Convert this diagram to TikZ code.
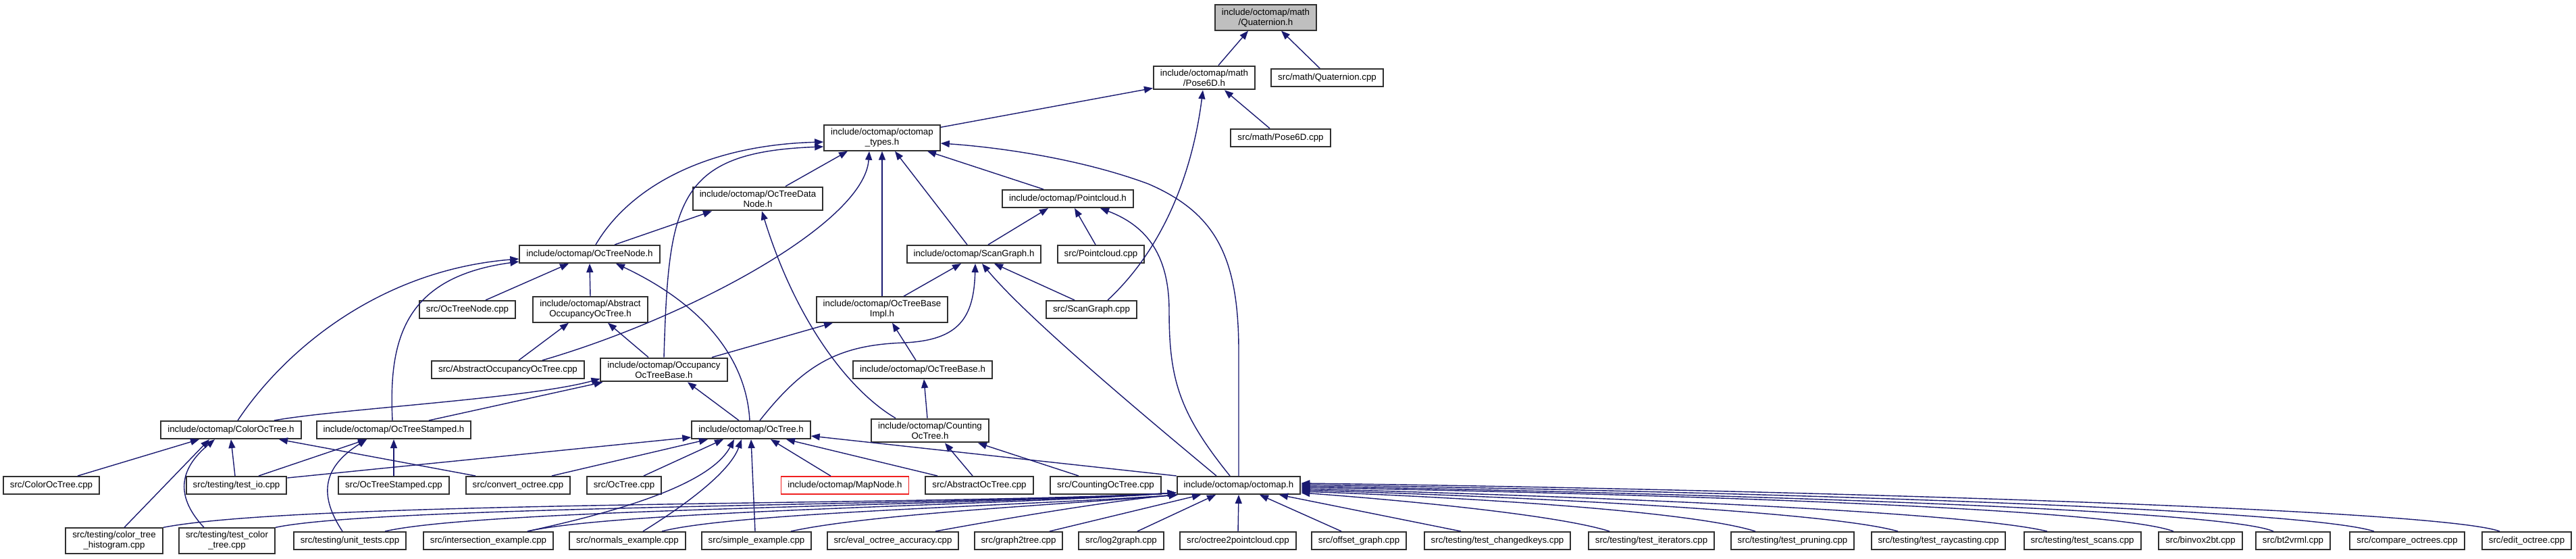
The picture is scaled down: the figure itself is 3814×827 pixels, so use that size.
\documentclass[tikz,border=0pt]{standalone}
\usepackage{fontspec}
\setmainfont{Liberation Sans}
\usepackage{xcolor}
\usepackage{tikz}
\usetikzlibrary{arrows.meta}
\definecolor{edgeblue}{HTML}{191970}
\definecolor{boxline}{HTML}{303030}
\definecolor{focusgray}{HTML}{BFBFBF}
\definecolor{missred}{HTML}{F02020}
\tikzset{
  filebox/.style   ={draw=boxline,line width=2pt,fill=white,inner xsep=10pt,inner ysep=5pt,
                     minimum height=26pt,align=center},
  focusbox/.style  ={filebox,fill=focusgray},
  missingbox/.style={filebox,draw=missred,line width=1.6pt},
  incl/.style      ={-{Triangle[length=13pt,width=10pt]},line width=1.4pt,draw=edgeblue}
}
\begin{document}
\begin{tikzpicture}[x=1pt,y=-1pt,font=\fontsize{13.3}{15}\selectfont]
    \useasboundingbox (0,0) rectangle (3814,827);
    % top of the graph
    \node[focusbox] (quat) at (1874,26) {include/octomap/math\\/Quaternion.h};
    \node[filebox] (pose) at (1783,115) {include/octomap/math\\/Pose6D.h};
    \node[filebox] (quatcpp) at (1965,115) {src/math/Quaternion.cpp};
    \node[filebox] (types) at (1306,204) {include/octomap/octomap\\\_types.h};
    \node[filebox] (posecpp) at (1896,204) {src/math/Pose6D.cpp};
    \node[filebox] (datanode) at (1122,294) {include/octomap/OcTreeData\\Node.h};
    \node[filebox] (pcloud) at (1581,294) {include/octomap/Pointcloud.h};
    \node[filebox] (ocnode) at (873,376) {include/octomap/OcTreeNode.h};
    \node[filebox] (scangraph) at (1442,376) {include/octomap/ScanGraph.h};
    \node[filebox] (pcloudcpp) at (1630,376) {src/Pointcloud.cpp};
    \node[filebox] (ocnodecpp) at (692,458) {src/OcTreeNode.cpp};
    \node[filebox] (absocc) at (874,458) {include/octomap/Abstract\\OccupancyOcTree.h};
    \node[filebox] (baseimpl) at (1306,458) {include/octomap/OcTreeBase\\Impl.h};
    \node[filebox] (scancpp) at (1616,458) {src/ScanGraph.cpp};
    \node[filebox] (absocccpp) at (752,547) {src/AbstractOccupancyOcTree.cpp};
    \node[filebox] (occbase) at (983,547) {include/octomap/Occupancy\\OcTreeBase.h};
    \node[filebox] (ocbase) at (1366,547) {include/octomap/OcTreeBase.h};
    \node[filebox] (colortree) at (342,636) {include/octomap/ColorOcTree.h};
    \node[filebox] (stamped) at (583,636) {include/octomap/OcTreeStamped.h};
    \node[filebox] (octree) at (1112,636) {include/octomap/OcTree.h};
    \node[filebox] (counting) at (1377,637) {include/octomap/Counting\\OcTree.h};
    % sources and headers one row up from the bottom
    \node[filebox] (colorcpp) at (76,718) {src/ColorOcTree.cpp};
    \node[filebox] (testio) at (350,718) {src/testing/test\_io.cpp};
    \node[filebox] (stampedcpp) at (583,718) {src/OcTreeStamped.cpp};
    \node[filebox] (convert) at (767,718) {src/convert\_octree.cpp};
    \node[filebox] (octreecpp) at (924,718) {src/OcTree.cpp};
    \node[missingbox] (mapnode) at (1251,718) {include/octomap/MapNode.h};
    \node[filebox] (absoctcpp) at (1450,718) {src/AbstractOcTree.cpp};
    \node[filebox] (countingcpp) at (1637,718) {src/CountingOcTree.cpp};
    \node[filebox] (octomap) at (1834,718) {include/octomap/octomap.h};
    % bottom row
    \node[filebox] (histogram) at (169,800) {src/testing/color\_tree\\\_histogram.cpp};
    \node[filebox] (testcolor) at (336,800) {src/testing/test\_color\\\_tree.cpp};
    \node[filebox] (unittests) at (518,800) {src/testing/unit\_tests.cpp};
    \node[filebox] (intersect) at (723,800) {src/intersection\_example.cpp};
    \node[filebox] (normals) at (929,800) {src/normals\_example.cpp};
    \node[filebox] (simple) at (1120,800) {src/simple\_example.cpp};
    \node[filebox] (eval) at (1322,800) {src/eval\_octree\_accuracy.cpp};
    \node[filebox] (graph2tree) at (1508,800) {src/graph2tree.cpp};
    \node[filebox] (log2graph) at (1660,800) {src/log2graph.cpp};
    \node[filebox] (oct2pc) at (1833,800) {src/octree2pointcloud.cpp};
    \node[filebox] (offset) at (2012,800) {src/offset\_graph.cpp};
    \node[filebox] (changed) at (2217,800) {src/testing/test\_changedkeys.cpp};
    \node[filebox] (iterators) at (2445,800) {src/testing/test\_iterators.cpp};
    \node[filebox] (pruning) at (2654,800) {src/testing/test\_pruning.cpp};
    \node[filebox] (raycast) at (2870,800) {src/testing/test\_raycasting.cpp};
    \node[filebox] (scans) at (3083,800) {src/testing/test\_scans.cpp};
    \node[filebox] (binvox) at (3258,800) {src/binvox2bt.cpp};
    \node[filebox] (bt2vrml) at (3395,800) {src/bt2vrml.cpp};
    \node[filebox] (compare) at (3564,800) {src/compare\_octrees.cpp};
    \node[filebox] (edit) at (3741,800) {src/edit\_octree.cpp};
    % math headers
    \draw[incl] ([xshift=21pt]pose.north) -- ([xshift=-26pt]quat.south);
    \draw[incl] ([xshift=-11pt]quatcpp.north) -- ([xshift=23pt]quat.south);
    \draw[incl] ([yshift=-4pt]types.north east) -- ([yshift=3pt]pose.south west);
    \draw[incl] ([xshift=-16pt]posecpp.north) -- ([xshift=30pt]pose.south);
    \draw[incl] ([xshift=24pt]scancpp.north) .. controls (1720,370) and (1765,260) .. ([xshift=-2pt]pose.south);
    % octomap_types.h
    \draw[incl] ([xshift=41pt]datanode.north) -- ([xshift=-51pt]types.south);
    \draw[incl] ([xshift=51pt]absocccpp.north) .. controls (1020,470) and (1280,330) .. ([xshift=-19pt]types.south);
    \draw[incl] (baseimpl.north) -- (types.south);
    \draw[incl] ([xshift=-10pt]scangraph.north) -- ([xshift=19pt]types.south);
    \draw[incl] ([xshift=-36pt]pcloud.north) -- ([xshift=67pt]types.south);
    \draw[incl] (octomap.north) -- (1834,520) .. controls (1834,380) and (1800,315) .. (1700,272)
                .. controls (1600,235) and (1480,218) .. ([yshift=-8pt]types.east);
    \draw[incl] ([xshift=9pt]ocnode.north) .. controls (930,280) and (1040,215) .. ([yshift=-6pt]types.west);
    \draw[incl] (occbase.north) .. controls (990,300) and (1000,225) .. ([yshift=-13pt]types.west);
    % OcTreeDataNode.h, Pointcloud.h
    \draw[incl] ([xshift=37pt]ocnode.north) -- ([xshift=-68pt]datanode.south);
    \draw[incl] ([xshift=-51pt]counting.north) .. controls (1260,580) and (1180,480) .. ([xshift=6pt]datanode.south);
    \draw[incl] ([xshift=21pt]scangraph.north) -- ([xshift=-29pt]pcloud.south);
    \draw[incl] ([xshift=-8pt]pcloudcpp.north) -- ([xshift=10pt]pcloud.south);
    \draw[incl] ([xshift=-13pt]octomap.north) .. controls (1745,610) and (1731,560) .. (1731,460)
                .. controls (1731,380) and (1700,335) .. ([xshift=48pt]pcloud.south);
    % ScanGraph.h
    \draw[incl] ([xshift=32pt]baseimpl.north) -- ([xshift=-19pt]scangraph.south);
    \draw[incl] ([xshift=-25pt]scancpp.north) -- ([xshift=30pt]scangraph.south);
    \draw[incl] ([xshift=-33pt]octomap.north) .. controls (1700,620) and (1520,470) .. ([xshift=12pt]scangraph.south);
    \draw[incl] ([xshift=13pt]octree.north) .. controls (1190,540) and (1240,510) .. (1340,507)
                .. controls (1420,503) and (1442,470) .. ([xshift=2pt]scangraph.south);
    % OcTreeBaseImpl.h, OcTreeBase.h
    \draw[incl] ([xshift=71pt]occbase.north) -- ([xshift=-73pt]baseimpl.south);
    \draw[incl] ([xshift=-10pt]ocbase.north) -- ([xshift=15pt]baseimpl.south);
    \draw[incl] ([xshift=-4pt]counting.north) -- ([xshift=2pt]ocbase.south);
    % AbstractOccupancyOcTree.h, OcTreeNode.h
    \draw[incl] ([xshift=16pt]absocccpp.north) -- ([xshift=-32pt]absocc.south);
    \draw[incl] ([xshift=-23pt]occbase.north) -- ([xshift=26pt]absocc.south);
    \draw[incl] ([xshift=27pt]ocnodecpp.north) -- ([xshift=-31pt]ocnode.south);
    \draw[incl] (absocc.north) -- (ocnode.south);
    \draw[incl] ([xshift=-2pt]octree.north) .. controls (1105,530) and (1040,450) .. ([xshift=39pt]ocnode.south);
    \draw[incl] ([xshift=10pt]colortree.north) .. controls (420,520) and (560,400) .. ([yshift=-7pt]ocnode.west);
    \draw[incl] ([xshift=-2pt]stamped.north) .. controls (575,500) and (600,410) .. ([yshift=-11pt]ocnode.west);
    % OccupancyOcTreeBase.h
    \draw[incl] ([xshift=64pt]colortree.north) .. controls (500,605) and (780,590) .. ([yshift=5pt]occbase.south west);
    \draw[incl] ([xshift=52pt]stamped.north) -- ([xshift=4pt]occbase.south west);
    \draw[incl] ([xshift=-18pt]octree.north) -- ([xshift=35pt]occbase.south);
    % ColorOcTree.h, OcTreeStamped.h
    \draw[incl] ([xshift=39pt]colorcpp.north) -- ([xshift=-47pt]colortree.south);
    \draw[incl] ([xshift=-2pt]testio.north) -- (colortree.south);
    \draw[incl] ([xshift=-63pt]convert.north) -- ([xshift=71pt]colortree.south);
    \draw[incl] ([xshift=15pt]histogram.north) -- ([xshift=-32pt]colortree.south);
    \draw[incl] ([xshift=-34pt]testcolor.north) .. controls (255,730) and (270,690) .. ([xshift=-24pt]colortree.south);
    \draw[incl] ([xshift=33pt]testio.north) -- ([xshift=-40pt]stamped.south);
    \draw[incl] (stampedcpp.north) -- (stamped.south);
    \draw[incl] ([xshift=-11pt]unittests.north) .. controls (470,730) and (480,690) .. ([xshift=-40pt]stamped.south);
    % OcTree.h
    \draw[incl] ([yshift=-3pt]testio.north east) -- ([yshift=-11pt]octree.west);
    \draw[incl] ([xshift=50pt]convert.north) -- ([xshift=-64pt]octree.south);
    \draw[incl] ([xshift=29pt]octreecpp.north) -- ([xshift=-41pt]octree.south);
    \draw[incl] ([xshift=58pt]intersect.north) .. controls (900,760) and (1050,720) .. ([xshift=-25pt]octree.south);
    \draw[incl] ([xshift=23pt]normals.north) .. controls (1010,750) and (1080,700) .. ([xshift=-14pt]octree.south);
    \draw[incl] ([xshift=-2pt]simple.north) -- (octree.south);
    \draw[incl] ([xshift=-21pt]mapnode.north) -- ([xshift=29pt]octree.south);
    \draw[incl] ([xshift=-62pt]absoctcpp.north) -- ([xshift=52pt]octree.south);
    \draw[incl] (octomap.north west) -- ([yshift=-9pt]octree.east);
    % CountingOcTree.h
    \draw[incl] ([xshift=-10pt]absoctcpp.north) -- ([xshift=22pt]counting.south);
    \draw[incl] ([xshift=-40pt]countingcpp.north) -- ([xshift=71pt]counting.south);
    % octomap.h from the bottom row
    \draw[incl] (histogram.north east) .. controls (450,740) and (1400,748) .. ([yshift=3pt]octomap.south west);
    \draw[incl] (testcolor.north east) .. controls (560,748) and (1420,748) .. ([yshift=3pt]octomap.south west);
    \draw[incl] ([xshift=52pt]unittests.north) .. controls (720,752) and (1450,748) .. ([yshift=3pt]octomap.south west);
    \draw[incl] ([xshift=58pt]intersect.north) .. controls (920,755) and (1480,748) .. ([yshift=3pt]octomap.south west);
    \draw[incl] ([xshift=51pt]normals.north) .. controls (1090,758) and (1520,748) .. ([xshift=2pt]octomap.south west);
    \draw[incl] ([xshift=51pt]simple.north) .. controls (1290,760) and (1580,746) .. ([xshift=2pt]octomap.south west);
    \draw[incl] ([xshift=63pt]eval.north) .. controls (1500,765) and (1650,740) .. ([xshift=2pt]octomap.south west);
    \draw[incl] ([xshift=46pt]graph2tree.north) -- ([xshift=-56pt]octomap.south);
    \draw[incl] ([xshift=24pt]log2graph.north) -- ([xshift=-34pt]octomap.south);
    \draw[incl] (oct2pc.north) -- (octomap.south);
    \draw[incl] ([xshift=-26pt]offset.north) -- ([xshift=31pt]octomap.south);
    \draw[incl] ([xshift=-54pt]changed.north) -- ([xshift=60pt]octomap.south);
    \draw[incl] ([xshift=-62pt]iterators.north) .. controls (2300,760) and (2050,738) .. ([yshift=-11pt]octomap.east);
    \draw[incl] ([xshift=-55pt]pruning.north) .. controls (2500,755) and (2150,735) .. ([yshift=-9pt]octomap.east);
    \draw[incl] ([xshift=-60pt]raycast.north) .. controls (2700,755) and (2200,733) .. ([yshift=-7pt]octomap.east);
    \draw[incl] ([xshift=-52pt]scans.north) .. controls (2900,755) and (2300,733) .. ([yshift=-5pt]octomap.east);
    \draw[incl] ([xshift=-40pt]binvox.north) .. controls (3120,750) and (2400,730) .. ([yshift=-3pt]octomap.east);
    \draw[incl] ([xshift=-29pt]bt2vrml.north) .. controls (3280,750) and (2400,728) .. ([yshift=-1pt]octomap.east);
    \draw[incl] ([xshift=-49pt]compare.north) .. controls (3400,750) and (2500,726) .. ([yshift=1pt]octomap.east);
    \draw[incl] ([xshift=-40pt]edit.north) .. controls (3600,750) and (2500,722) .. ([yshift=3pt]octomap.east);
\end{tikzpicture}
\end{document}
